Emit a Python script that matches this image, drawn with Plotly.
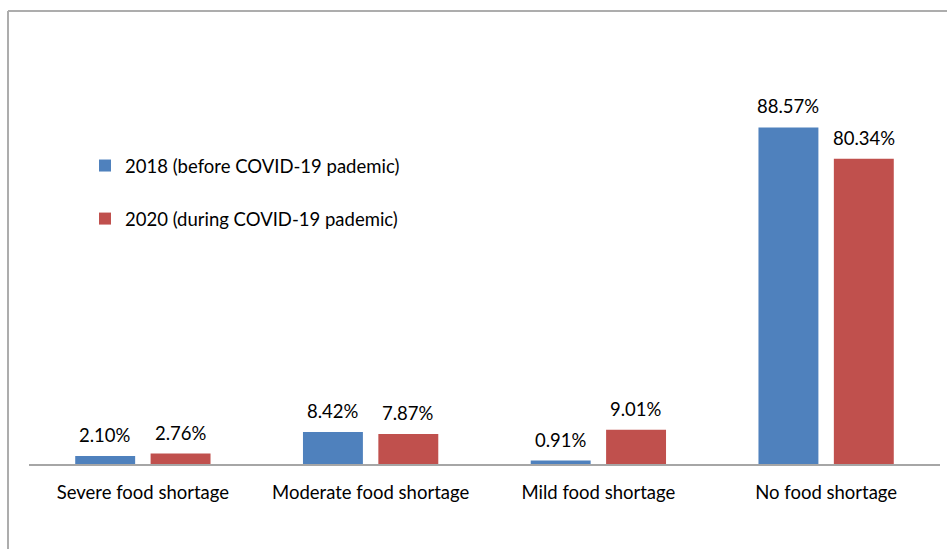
import plotly.graph_objects as go

categories = ["Severe food shortage", "Moderate food shortage", "Mild food shortage", "No food shortage"]
series_names = ["2018 (before COVID-19 pademic)", "2020 (during COVID-19 pademic)"]
values_2018 = [2.10, 8.42, 0.91, 88.57]
values_2020 = [2.76, 7.87, 9.01, 80.34]
colors = ["#4F81BD", "#C0504D"]

FONT = "Lato"
FS = 18.5
W, H = 947, 549
L, R, T, B = 29, 7, 84, 85
BARGAP, GROUPGAP = 0.338, 0.205

plot_w = W - L - R
plot_h = H - T - B
slot = plot_w / len(categories) * (1 - BARGAP) / 2

fig = go.Figure()
annotations = []
for i, (name, vals, col, grp) in enumerate(zip(series_names, [values_2018, values_2020], colors, ["a", "b"])):
    fig.add_trace(go.Bar(
        x=categories, y=vals, name=name,
        marker=dict(color=col, line=dict(width=0)),
        cliponaxis=False, legendgroup=grp,
    ))
    shift = (i - 0.5) * slot
    for c, v in zip(categories, vals):
        annotations.append(dict(x=c, y=v, xref="x", yref="y", text=f"{v:.2f}%", showarrow=False,
                                xanchor="center", yanchor="bottom", xshift=shift, yshift=8,
                                font=dict(family=FONT, size=FS, color="#000000")))

fig.update_layout(
    width=W, height=H,
    margin=dict(l=L, r=R, t=T, b=B, pad=0),
    paper_bgcolor="white", plot_bgcolor="white",
    barmode="group", bargap=BARGAP, bargroupgap=GROUPGAP,
    font=dict(family=FONT, size=FS, color="#000000"),
    showlegend=True,
    legend=dict(x=(85 - L) / plot_w, y=(H - B - 147) / plot_h, xanchor="left", yanchor="top",
                bgcolor="rgba(0,0,0,0)", tracegroupgap=26, itemwidth=30,
                font=dict(family=FONT, size=FS)),
    xaxis=dict(showline=True, linecolor="#A6A6A6", linewidth=1.5, showgrid=False,
               ticks="", tickfont=dict(family=FONT, size=FS), ticklabelstandoff=11),
    yaxis=dict(range=[0, 100], visible=False, showgrid=False, zeroline=False),
    annotations=annotations,
    shapes=[
        dict(type="line", xref="paper", yref="paper", x0=(8 - L) / plot_w, x1=(W + 5 - L) / plot_w,
             y0=(H - B - 11) / plot_h, y1=(H - B - 11) / plot_h, line=dict(color="#ADADAD", width=2)),
        dict(type="line", xref="paper", yref="paper", x0=(8 - L) / plot_w, x1=(8 - L) / plot_w,
             y0=(H - B - 11) / plot_h, y1=(H - B - H - 5) / plot_h, line=dict(color="#ADADAD", width=2)),
    ],
)
fig.write_html("out.html")
